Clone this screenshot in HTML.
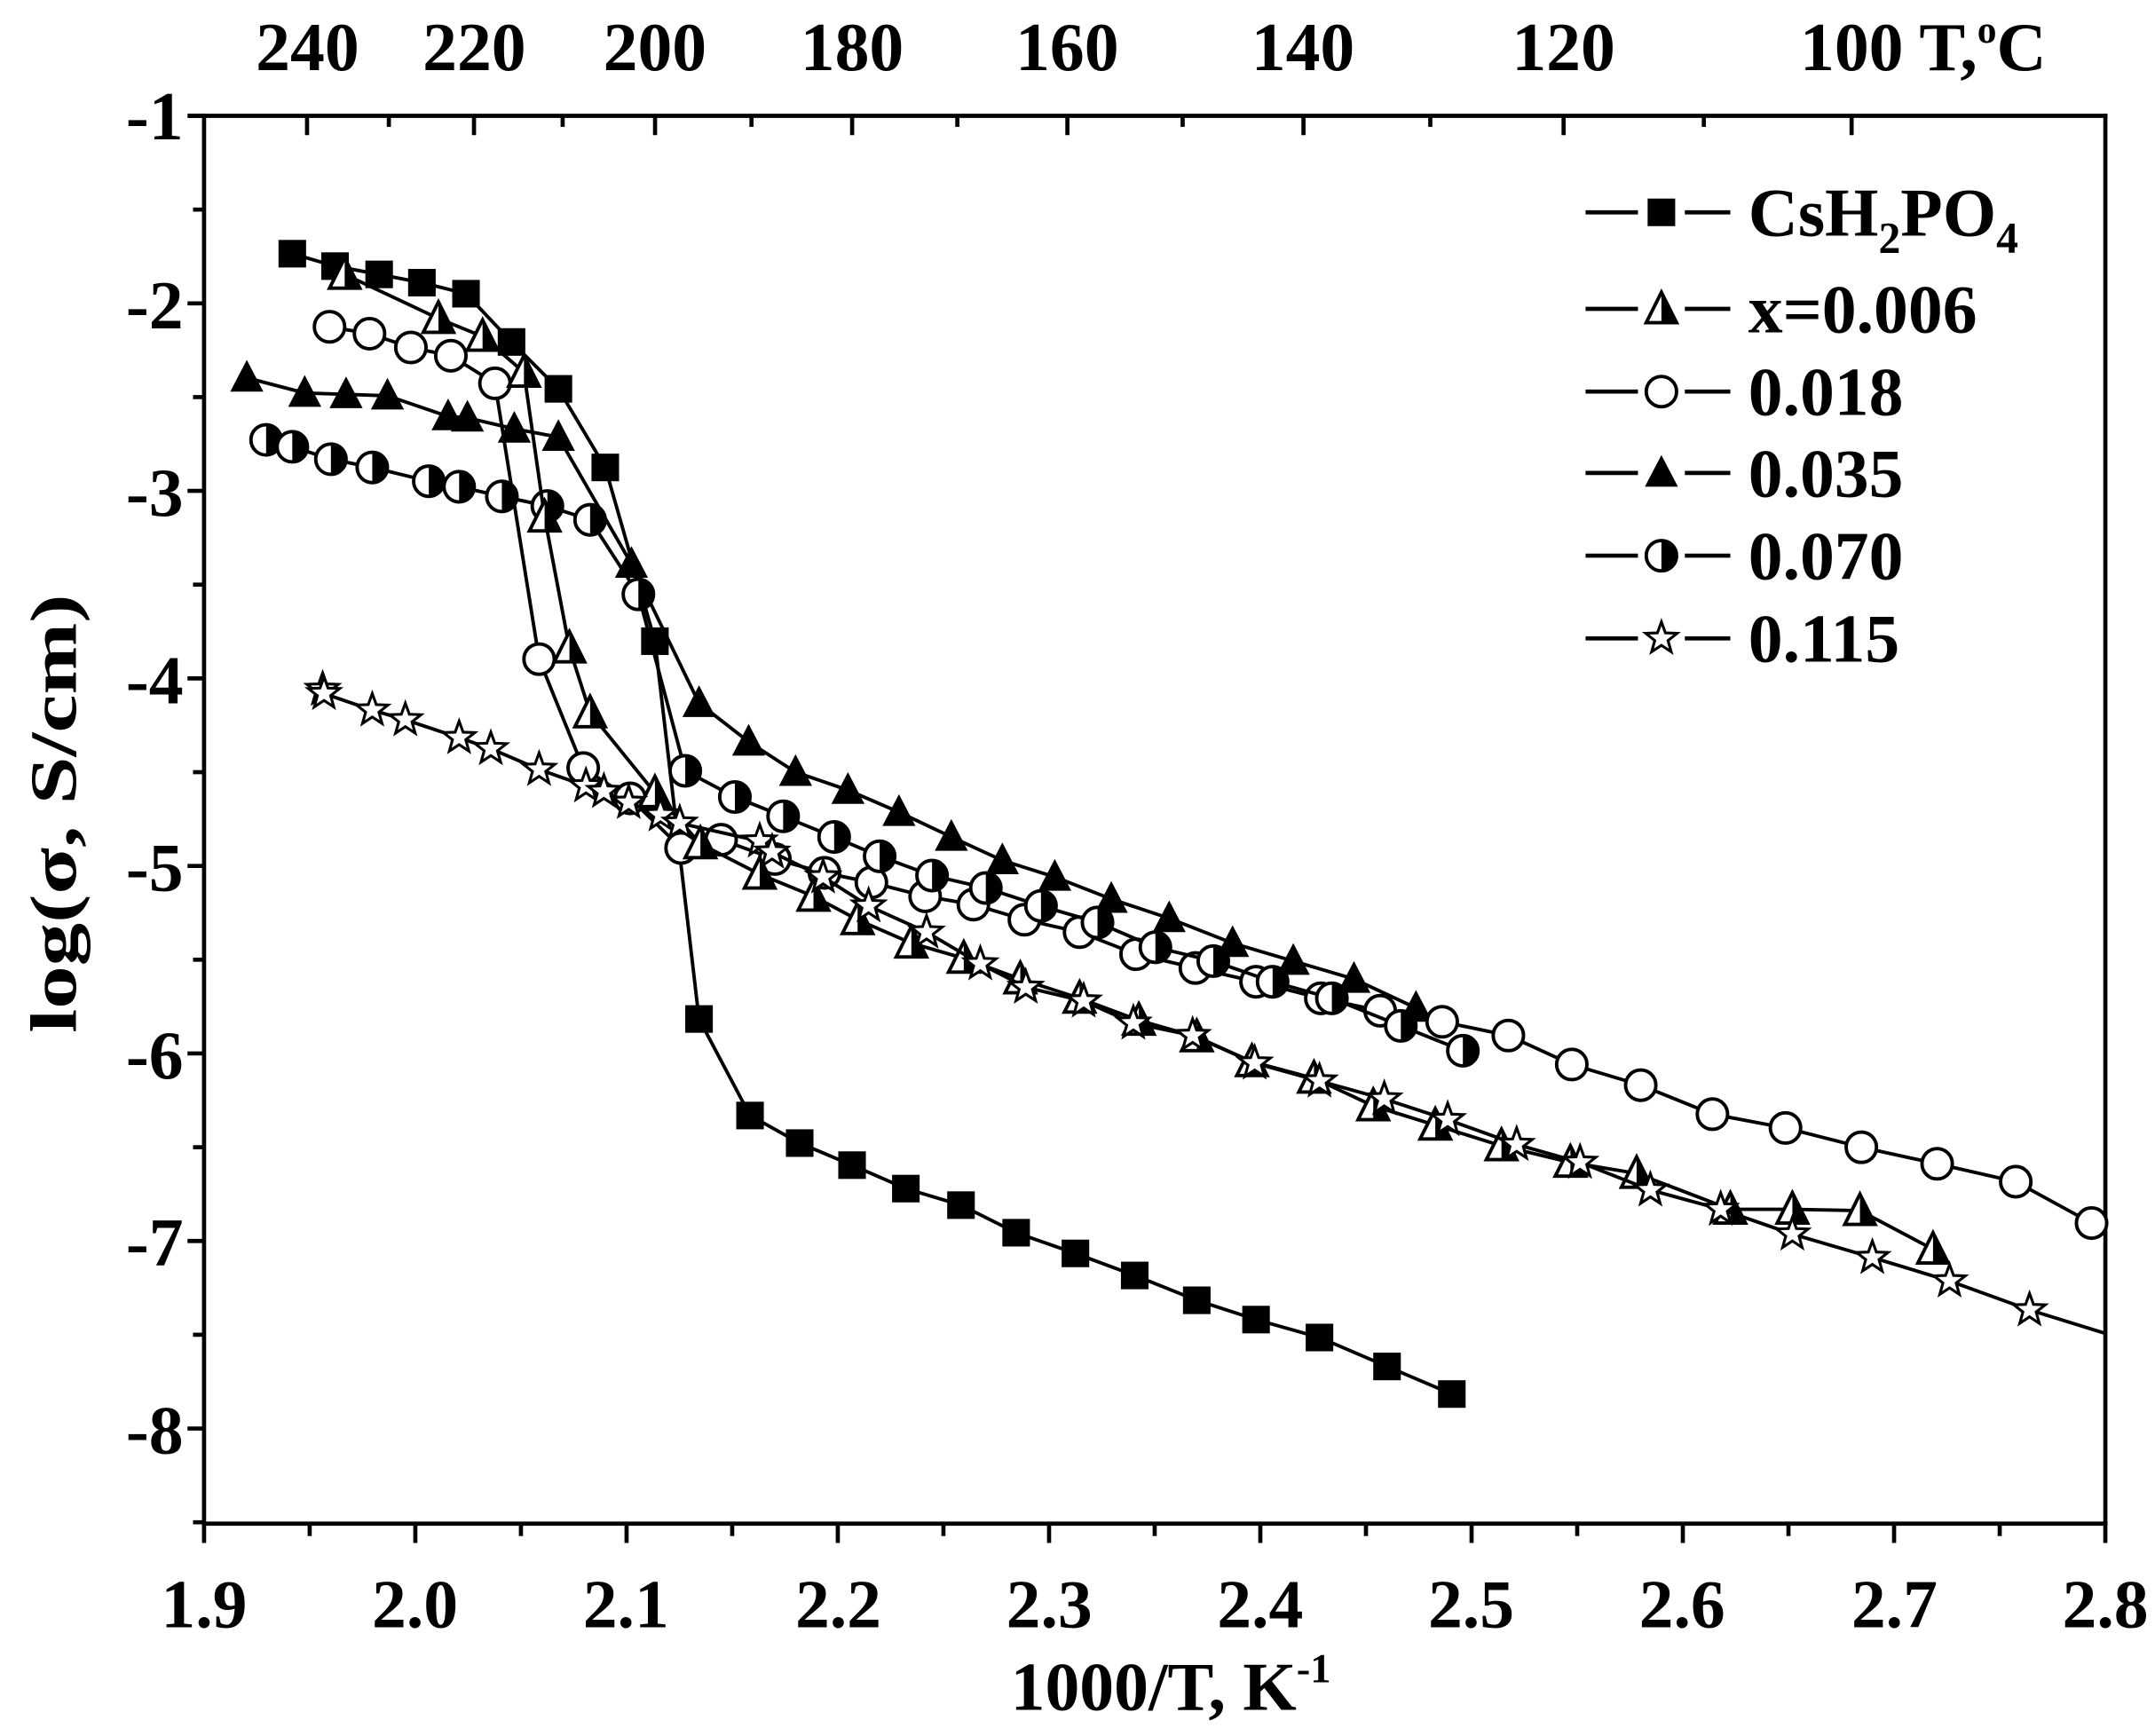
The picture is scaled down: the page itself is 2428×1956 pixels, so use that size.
<!DOCTYPE html>
<html><head><meta charset="utf-8"><style>
html,body{margin:0;padding:0;background:#fff;}
svg{display:block;}
text{font-family:"Liberation Serif",serif;font-weight:bold;fill:#000;}
</style></head><body>
<svg id="s" width="2428" height="1956" viewBox="0 0 1563 1259" preserveAspectRatio="none" xmlns="http://www.w3.org/2000/svg">
<g id="axes" stroke="#000" stroke-width="3" fill="none" stroke-linecap="square">
<line x1="138" y1="84" x2="1527" y2="84"/>
<line x1="148" y1="84" x2="148" y2="1105"/>
<line x1="1527" y1="84" x2="1527" y2="1105"/>
<line x1="148" y1="1105" x2="1527" y2="1105"/>
</g>
<g id="ticks" stroke="#000" stroke-width="3"></g>
<g id="series"></g>
<g font-size="50" text-anchor="end">
<text x="133" y="101">-1</text>
<text x="133" y="238">-2</text>
<text x="133" y="374">-3</text>
<text x="133" y="510">-4</text>
<text x="133" y="646">-5</text>
<text x="133" y="782">-6</text>
<text x="133" y="918">-7</text>
<text x="133" y="1054">-8</text>
</g>
<g font-size="50" text-anchor="middle">
<text x="148" y="1180">1.9</text>
<text x="301" y="1180">2.0</text>
<text x="454" y="1180">2.1</text>
<text x="608" y="1180">2.2</text>
<text x="761" y="1180">2.3</text>
<text x="914" y="1180">2.4</text>
<text x="1067" y="1180">2.5</text>
<text x="1220" y="1180">2.6</text>
<text x="1374" y="1180">2.7</text>
<text x="1527" y="1180">2.8</text>
<text x="223" y="51">240</text>
<text x="344" y="51">220</text>
<text x="475" y="51">200</text>
<text x="618" y="51">180</text>
<text x="774" y="51">160</text>
<text x="945" y="51">140</text>
<text x="1134" y="51">120</text>
<text x="1343" y="51">100</text>
</g>
<text x="1392" y="51" font-size="50">T,<tspan font-size="28" dy="-20">o</tspan><tspan dy="20">C</tspan></text>
<text x="733" y="1240" font-size="50">1000/T, K<tspan font-size="30" dy="-20">-1</tspan></text>
<text transform="translate(55,590) rotate(-90) scale(1.3,1)" font-size="48" text-anchor="middle">log(σ, S/cm)</text>
<g font-size="50">
<text x="1268" y="171">CsH<tspan font-size="32" dy="12">2</tspan><tspan dy="-12">PO</tspan><tspan font-size="32" dy="12">4</tspan></text>
<text x="1268" y="241">x=0.006</text>
<text x="1268" y="301">0.018</text>
<text x="1268" y="360">0.035</text>
<text x="1268" y="420">0.070</text>
<text x="1268" y="480">0.115</text>
</g>
</svg>
<script>
var NS="http://www.w3.org/2000/svg";
function el(p,n,a){var e=document.createElementNS(NS,n);for(var k in a)e.setAttribute(k,a[k]);p.appendChild(e);return e;}
var tk=document.getElementById('ticks');
function X(v){return 148+(v-1.9)*1532.2;}
function Y(v){return 84+(-1-v)*136;}
for(var i=0;i<=18;i++){var v=1.9+i*0.05,x=X(v),maj=i%2==0;el(tk,'line',{x1:x,y1:1105,x2:x,y2:1105+(maj?14:9)});}
for(var i=0;i<=15;i++){var v=-1-i*0.5,y=Y(v),maj=i%2==0;el(tk,'line',{x1:148,y1:y,x2:148-(maj?12:8),y2:y});}
for(var T=240;T>=95;T-=10){var x=X(1000/(T+273.15));if(x>1527)continue;var maj=T%20==0;el(tk,'line',{x1:x,y1:84,x2:x,y2:84+(maj?14:8)});}
var sg=document.getElementById('series');
function marker(t,x,y){
 if(t=='sq')el(sg,'rect',{x:x-10,y:y-10,width:20,height:20,fill:'#000'});
 else if(t=='ci')el(sg,'circle',{cx:x,cy:y,r:11,fill:'#fff',stroke:'#000','stroke-width':2.5});
 else if(t=='tr')el(sg,'polygon',{points:(x-12)+','+(y+10)+' '+x+','+(y-13)+' '+(x+12)+','+(y+10),fill:'#000'});
 else if(t=='ht'){el(sg,'polygon',{points:(x-11)+','+(y+10)+' '+x+','+(y-12)+' '+(x+11)+','+(y+10),fill:'#fff',stroke:'#000','stroke-width':2.5});
  el(sg,'polygon',{points:x+','+(y+10)+' '+x+','+(y-12)+' '+(x+11)+','+(y+10),fill:'#000'});}
 else if(t=='hc'){el(sg,'circle',{cx:x,cy:y,r:11,fill:'#fff',stroke:'#000','stroke-width':2.5});
  el(sg,'path',{d:'M'+x+','+(y-11)+' A11,11 0 0 1 '+x+','+(y+11)+' Z',fill:'#000'});}
 else if(t=='st'){var p=[];for(var k=0;k<10;k++){var r=k%2?5:12,a=-Math.PI/2+k*Math.PI/5;p.push((x+r*Math.cos(a)).toFixed(1)+','+(y+r*Math.sin(a)).toFixed(1));}
  el(sg,'polygon',{points:p.join(' '),fill:'#fff',stroke:'#000','stroke-width':2});}
}
function series(t,pts,extra){
 var all=pts.concat(extra||[]);
 el(sg,'polyline',{points:all.map(function(p){return p.join(',')}).join(' '),fill:'none',stroke:'#000','stroke-width':2.5});
 pts.forEach(function(p){marker(t,p[0],p[1]);});
}
series('sq',[[212,184],[243,193],[275,199],[306,205],[338,213],[371,248],[405,282],[439,339],[475,465],[507,739],[544,809],[580,829],[618,845],[657,862],[697,874],[737,894],[780,909],[823,925],[868,943],[911,957],[957,970],[1006,991],[1053,1011]]);
series('tr',[[179,274],[221,285],[251,286],[281,287],[325,302],[339,303],[373,311],[405,317],[458,409],[507,510],[543,538],[577,560],[615,573],[652,589],[690,607],[727,624],[765,636],[806,652],[848,666],[894,684],[938,697],[982,710],[1027,731]]);
series('ci',[[239,237],[268,242],[298,252],[327,258],[359,278],[391,478],[423,557],[457,579],[494,615],[523,609],[562,623],[598,633],[632,640],[671,650],[706,656],[743,667],[783,676],[824,692],[867,702],[911,712],[958,724],[1001,733],[1046,741],[1094,751],[1140,772],[1190,787],[1242,808],[1295,818],[1350,832],[1405,844],[1462,857],[1517,887]]);
series('hc',[[193,319],[212,324],[240,333],[270,339],[311,349],[333,353],[364,360],[397,367],[428,377],[463,431],[497,559],[533,578],[568,592],[605,607],[638,621],[676,635],[715,644],[755,657],[796,669],[838,687],[880,697],[923,712],[966,724],[1016,744],[1061,762]]);
series('ht',[[250,199],[318,231],[350,244],[380,270],[395,375],[413,470],[428,517],[475,575],[508,612],[551,634],[590,650],[622,667],[661,684],[699,695],[740,710],[783,724],[826,740],[868,752],[908,770],[953,782],[996,802],[1041,816],[1089,831],[1139,843],[1187,851],[1255,877],[1300,877],[1349,878],[1402,906]]);
series('st',[[234,500],[235,503],[270,515],[294,522],[333,535],[356,543],[391,558],[425,570],[438,574],[456,582],[479,591],[493,597],[551,610],[560,618],[597,636],[630,657],[672,676],[711,699],[744,716],[786,726],[822,742],[865,751],[910,771],[957,784],[1004,797],[1050,812],[1100,830],[1146,843],[1197,863],[1248,877],[1300,895],[1358,912],[1414,929],[1472,950]],[[1527,967]]);
var L=[['sq',154],['ht',224],['ci',284],['tr',343],['hc',403],['st',463]];
L.forEach(function(l){
 el(sg,'line',{x1:1150,y1:l[1],x2:1188,y2:l[1],stroke:'#000','stroke-width':3});
 el(sg,'line',{x1:1222,y1:l[1],x2:1255,y2:l[1],stroke:'#000','stroke-width':3});
 marker(l[0],1205,l[1]);});
</script>
</body></html>
